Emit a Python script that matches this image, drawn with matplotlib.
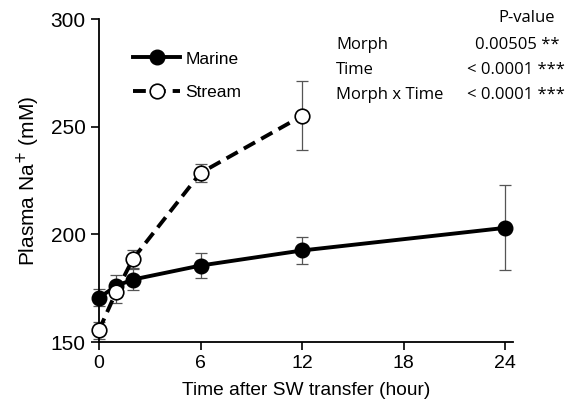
import matplotlib
matplotlib.use("Agg")
import matplotlib.pyplot as plt

hours = [0, 1, 2, 6, 12, 24]
marine = [170.5, 176, 179, 185.5, 192.5, 203]
marine_err = [4, 5, 5, 6, 6.3, 19.7]
stream_hours = [0, 1, 2, 6, 12]
stream = [155.5, 173, 188.5, 228.5, 255]
stream_err = [4, 5, 4, 4, 16]
xticks = [0, 6, 12, 18, 24]
yticks = [150, 200, 250, 300]
stats_labels = ["Morph", "Time", "Morph x Time"]
stats_values = ["0.00505 **", "< 0.0001 ***", "< 0.0001 ***"]

plt.rcParams['font.family'] = ['Liberation Sans', 'DejaVu Sans']
fig = plt.figure(figsize=(5.74, 4.07), dpi=100)
ax = fig.add_axes([99/574, 65/407, 414/574, 323/407])

ax.errorbar(hours, marine, yerr=marine_err, fmt='none', ecolor='#555555',
            elinewidth=0.9, capsize=4, capthick=0.9, zorder=2, clip_on=False)
ax.errorbar(stream_hours, stream, yerr=stream_err, fmt='none', ecolor='#555555',
            elinewidth=0.9, capsize=4, capthick=0.9, zorder=2, clip_on=False)
ax.plot(hours, marine, color='black', lw=2.8, marker='o', ms=10.5,
        mfc='black', mec='black', zorder=3, clip_on=False, label='Marine')
ax.plot(stream_hours, stream, color='black', lw=2.8, ls=(0, (3.3, 1.8)), marker='o', ms=10.5,
        mfc='white', mec='black', mew=1.2, zorder=4, clip_on=False, label='Stream')

ax.set_xlim(0, 24.47)
ax.set_ylim(150, 300)
ax.set_xticks(xticks)
ax.set_yticks(yticks)
ax.tick_params(labelsize=15, width=1.2, length=6, direction='out')
ax.tick_params(axis='x', labelsize=14)
for s in ['top', 'right']:
    ax.spines[s].set_visible(False)
for s in ['left', 'bottom']:
    ax.spines[s].set_linewidth(1.3)

ax.set_xlabel('Time after SW transfer (hour)', fontsize=13.8, labelpad=7)
ax.set_ylabel('Plasma Na$^{+}$ (mM)', fontsize=15, labelpad=6)

ax.legend(loc='upper left', bbox_to_anchor=(0.045, 0.948), frameon=False,
          fontsize=12.5, handlelength=2.7, labelspacing=1.05, handletextpad=0.3)

fam = ['Open Sans', 'DejaVu Sans']
fig.text(527/574, 1 - 18/407, 'P-value', fontsize=12, family=fam, ha='center', va='center')
for i, (lab, val) in enumerate(zip(stats_labels, stats_values)):
    y = 1 - (45 + 25*i)/407
    fig.text(336/574, y, lab, fontsize=12, family=fam, ha='left', va='center')
    fig.text(467/574 if val.startswith('<') else 475/574, y, val, fontsize=12, family=fam,
             ha='left', va='center')

fig.savefig('out.png', dpi=100)
